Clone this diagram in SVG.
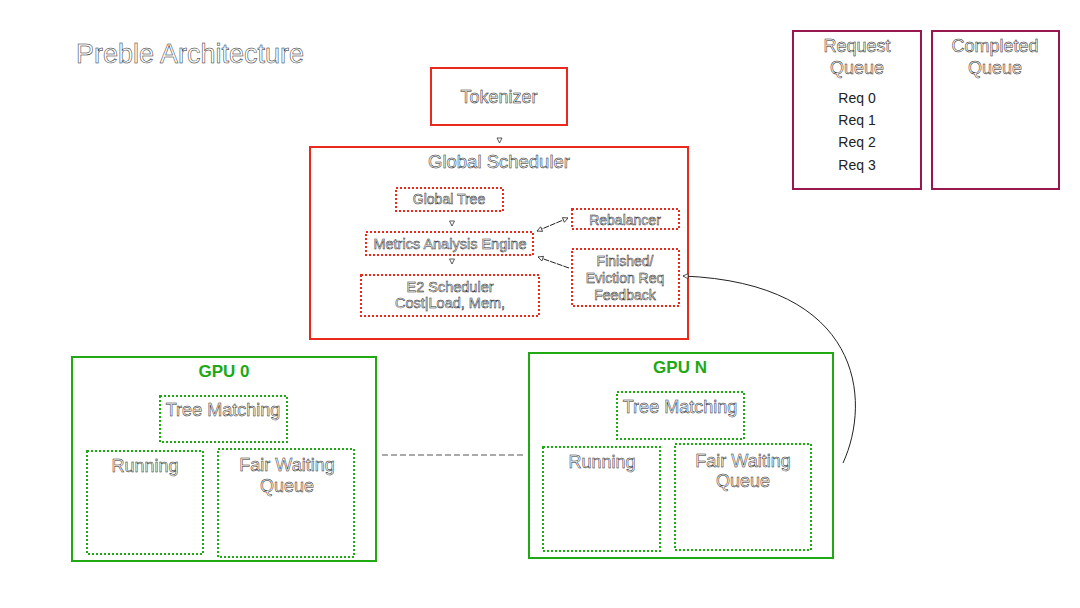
<svg xmlns="http://www.w3.org/2000/svg" width="1080" height="608" viewBox="0 0 1080 608">
<style>
  .ol { font-family: "Liberation Sans", Arial, sans-serif; fill: #fff; stroke: #1a1a1a; stroke-width: 0.5; text-anchor: middle; opacity: 0.99; }
  .solid { font-family: "Liberation Sans", Arial, sans-serif; fill: #222; text-anchor: middle; }
  .gpu { font-family: "Liberation Sans", Arial, sans-serif; fill: #20a914; font-weight: bold; text-anchor: middle; font-size: 17px; }
  .red { fill: #fff; stroke: #e8291c; stroke-width: 2; }
  .reddot { fill: #fff; stroke: #e8291c; stroke-width: 2; stroke-dasharray: 2 2; }
  .green { fill: #fff; stroke: #20a914; stroke-width: 2; }
  .greendot { fill: #fff; stroke: #20a914; stroke-width: 2; stroke-dasharray: 2 2; }
  .maroon { fill: #fff; stroke: #98174f; stroke-width: 2; }
  .conn { fill: none; stroke: #222; stroke-width: 1; }
</style>
<defs>
  <marker id="arr" markerUnits="userSpaceOnUse" markerWidth="7" markerHeight="7" refX="5" refY="2.5" orient="auto-start-reverse" viewBox="-1 -1 7 7">
    <path d="M0,0 L5,2.5 L0,5 Z" fill="#fff" stroke="#333" stroke-width="0.8"/>
  </marker>
</defs>
<rect width="1080" height="608" fill="#fff"/>

<text class="ol" x="190" y="63" font-size="27">Preble Architecture</text>

<g id="tokenizer">
  <rect class="red" x="431" y="68" width="136" height="57"/>
  <text class="ol" x="499" y="103" font-size="18">Tokenizer</text>
</g>

<g id="global-scheduler">
  <rect class="red" x="310" y="147" width="378" height="192"/>
  <text class="ol" x="499" y="168" font-size="18.5">Global Scheduler</text>
</g>
<g id="global-tree">
  <rect class="reddot" x="396" y="188" width="107" height="23"/>
  <text class="ol" x="449" y="204" font-size="14">Global Tree</text>
</g>
<g id="metrics">
  <rect class="reddot" x="366" y="232" width="167" height="23"/>
  <text class="ol" x="450" y="249" font-size="14.5">Metrics Analysis Engine</text>
</g>
<g id="e2-scheduler">
  <rect class="reddot" x="361" y="275" width="178" height="41"/>
  <text class="ol" x="450" y="292" font-size="14.5">E2 Scheduler</text>
  <text class="ol" x="450" y="308" font-size="14.5">Cost|Load, Mem,</text>
</g>
<g id="rebalancer">
  <rect class="reddot" x="572" y="209" width="107" height="20"/>
  <text class="ol" x="625" y="225" font-size="14">Rebalancer</text>
</g>
<g id="feedback">
  <rect class="reddot" x="572" y="249" width="107" height="57"/>
  <text class="ol" x="625" y="266" font-size="14">Finished/</text>
  <text class="ol" x="625" y="283" font-size="14">Eviction Req</text>
  <text class="ol" x="625" y="300" font-size="14">Feedback</text>
</g>

<g id="request-queue">
  <rect class="maroon" x="793" y="31" width="128" height="158"/>
  <text class="ol" x="857" y="52" font-size="18">Request</text>
  <text class="ol" x="857" y="74" font-size="18">Queue</text>
  <text class="solid" x="857" y="103" font-size="14">Req 0</text>
  <text class="solid" x="857" y="125" font-size="14">Req 1</text>
  <text class="solid" x="857" y="147" font-size="14">Req 2</text>
  <text class="solid" x="857" y="170" font-size="14">Req 3</text>
</g>
<g id="completed-queue">
  <rect class="maroon" x="932" y="31" width="127" height="158"/>
  <text class="ol" x="995" y="52" font-size="18">Completed</text>
  <text class="ol" x="995" y="74" font-size="18">Queue</text>
</g>

<g id="gpu-0">
  <rect class="green" x="72" y="357" width="304" height="204"/>
  <text class="gpu" x="224" y="377">GPU 0</text>
  <rect class="greendot" x="160" y="396" width="127" height="46"/>
  <text class="ol" x="223" y="416" font-size="18">Tree Matching</text>
  <rect class="greendot" x="87" y="451" width="116" height="103"/>
  <text class="ol" x="145" y="472" font-size="18">Running</text>
  <rect class="greendot" x="218" y="449" width="136" height="108"/>
  <text class="ol" x="287" y="471" font-size="18">Fair Waiting</text>
  <text class="ol" x="287" y="492" font-size="18">Queue</text>
</g>

<g id="gpu-n">
  <rect class="green" x="529" y="353" width="304" height="205"/>
  <text class="gpu" x="680" y="373">GPU N</text>
  <rect class="greendot" x="617" y="392" width="127" height="47"/>
  <text class="ol" x="680" y="413" font-size="18">Tree Matching</text>
  <rect class="greendot" x="543" y="447" width="117" height="104"/>
  <text class="ol" x="602" y="468" font-size="18">Running</text>
  <rect class="greendot" x="675" y="444" width="136" height="106"/>
  <text class="ol" x="743" y="467" font-size="18">Fair Waiting</text>
  <text class="ol" x="743" y="487" font-size="18">Queue</text>
</g>

<g id="connectors">
  <path d="M499.5,136 L499.5,143" fill="none" stroke="none" marker-end="url(#arr)"/>
  <path d="M452,219 L452,226" fill="none" stroke="none" marker-end="url(#arr)"/>
  <path d="M452,257 L452,264" fill="none" stroke="none" marker-end="url(#arr)"/>
  <path class="conn" d="M537,231 L568,218" stroke-dasharray="6 1" marker-start="url(#arr)" marker-end="url(#arr)"/>
  <path class="conn" d="M569,268 L538,257" stroke-dasharray="6 1" marker-end="url(#arr)"/>
  <path class="conn" d="M843,463 C872,400 862,283 683,276" marker-end="url(#arr)"/>
  <path d="M382,455 L523,455" fill="none" stroke="#555" stroke-width="1" stroke-dasharray="6 3"/>
</g>
</svg>
